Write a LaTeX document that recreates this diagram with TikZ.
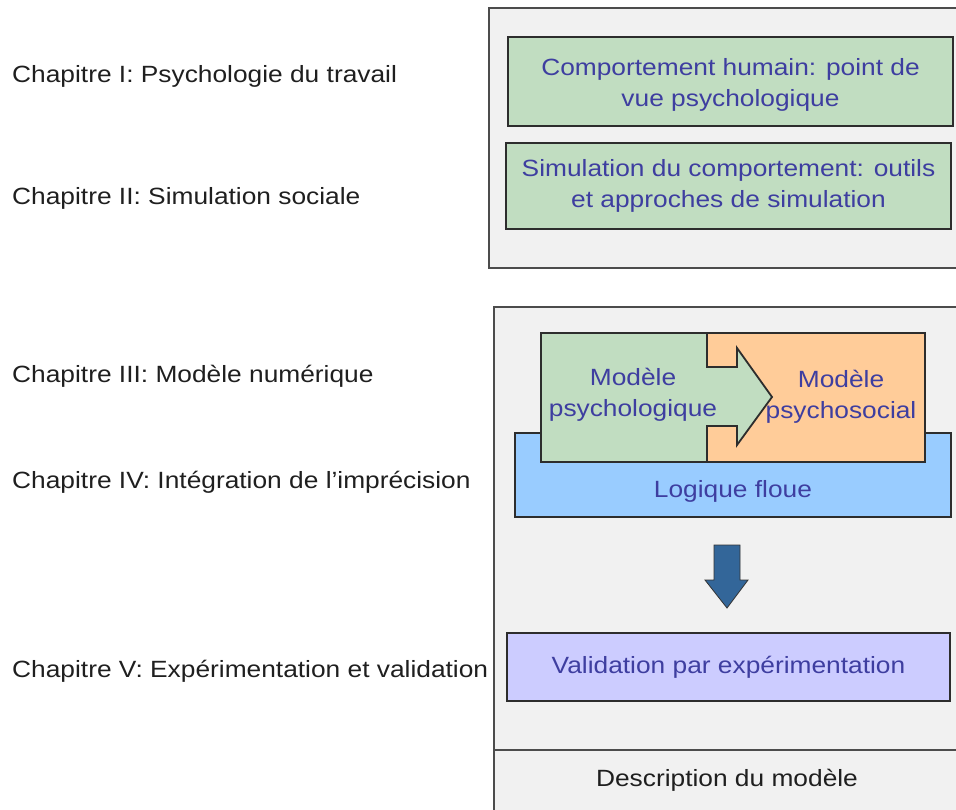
\documentclass[tikz,border=0pt]{standalone}
\usepackage{fontspec}
\setmainfont{Liberation Sans}[FakeStretch=1.12]
\usepackage{xcolor}
\usetikzlibrary{positioning}
\definecolor{panelgray}{RGB}{241,241,241}
\definecolor{boxgreen}{RGB}{193,221,193}
\definecolor{boxorange}{RGB}{255,204,153}
\definecolor{boxblue}{RGB}{153,204,255}
\definecolor{boxlav}{RGB}{204,204,255}
\definecolor{arrowblue}{RGB}{51,102,153}
\definecolor{txtblue}{RGB}{62,62,160}
\definecolor{boxline}{RGB}{45,45,45}

\begin{document}
\begin{tikzpicture}[x=1pt, y=-1pt,
    panel/.style={draw=black!70, fill=panelgray, line width=1.3pt},
    box/.style={draw=boxline, line width=1.8pt, inner sep=0pt},
    boxtext/.style={text=txtblue, align=center, inner sep=0pt, font=\fontsize{23.5}{31}\selectfont},
    chap/.style={anchor=base west, inner sep=0pt, text=black!88, font=\fontsize{23.5}{31}\selectfont}]
    \clip (0,0) rectangle (956,810);
    \useasboundingbox (0,0) rectangle (956,810);

    % Chapter labels on the left
    \node[chap] (ch1) at (12,83)  {Chapitre I: Psychologie du travail};
    \node[chap] (ch2) at (12,205) {Chapitre II: Simulation sociale};
    \node[chap] (ch3) at (12,382) {Chapitre III: Modèle numérique};
    \node[chap] (ch4) at (12,488) {Chapitre IV: Intégration de l’imprécision};
    \node[chap] (ch5) at (12,677) {Chapitre V: Expérimentation et validation};

    % Upper panel (state of the art)
    \draw[panel] (489,8) rectangle (975,268);
    \node[box, fill=boxgreen, minimum width=445pt, minimum height=89pt] (human) at (730.5,81.5) {};
    \node[boxtext] at ([yshift=-3pt]human) {Comportement humain: point de\\vue psychologique};
    \node[box, fill=boxgreen, minimum width=445pt, minimum height=86pt] (simu) at (728.5,186) {};
    \node[boxtext] at (simu) {Simulation du comportement: outils\\et approches de simulation};

    % Lower panel (model description)
    \draw[panel] (494,307) rectangle (975,830);
    \draw[black!70, line width=1.3pt] (494,750) -- (975,750);
    \node[text=black!88, font=\fontsize{23.5}{31}\selectfont] (desc) at (727,780) {Description du modèle};

    % Fuzzy logic base
    \node[box, fill=boxblue, minimum width=436pt, minimum height=84pt] (fuzzy) at (733,475) {};
    \node[boxtext] (fuzzytxt) at (733,491) {Logique floue};

    % Psychosocial model with the psychological model pushed into it
    \node[box, fill=boxorange, minimum width=218pt, minimum height=129pt] (psysoc) at (816,397.5) {};
    \draw[boxline, line width=1.8pt, fill=boxgreen]
        (541,333) -- (707,333) -- (707,367) -- (737,367) -- (737,348) -- (772,397)
        -- (737,445) -- (737,426) -- (707,426) -- (707,462) -- (541,462) -- cycle;
    \node[boxtext] (psytxt) at (633,395) {Modèle\\psychologique};
    \node[boxtext] (psysoctxt) at (841,397) {Modèle\\psychosocial};

    % Validation
    \node[box, fill=boxlav, minimum width=443pt, minimum height=68pt] (valid) at (728.5,667) {};
    \node[boxtext] at (valid) {Validation par expérimentation};

    % Block arrow down to the validation
    \coordinate (down) at (727,545);
    \draw[fill=arrowblue, draw=black!80, line width=0.8pt]
        (down) ++(-13,0) -- ++(26,0) -- ++(0,35) -- ++(8,0) -- ++(-21,28)
        -- ++(-22,-28) -- ++(9,0) -- cycle;
\end{tikzpicture}
\end{document}
